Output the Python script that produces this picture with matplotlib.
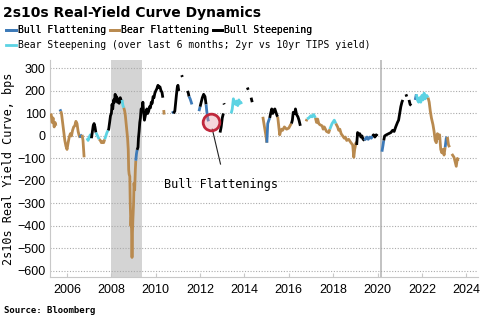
import numpy as np
import matplotlib
matplotlib.use("Agg")
import matplotlib.pyplot as plt
from matplotlib.lines import Line2D

# ---- data: (year, value bps, regime); "gap" breaks the line ----
years = [
    2005.28, 2005.33, 2005.37, 2005.42, 2005.46, 2005.50, 2005.52,
    2005.68, 2005.72,
    2005.75, 2005.80, 2005.85, 2005.90, 2005.95, 2006.00, 2006.05, 2006.10, 2006.15, 2006.20, 2006.25, 2006.30, 2006.35, 2006.40, 2006.45, 2006.50, 2006.55, 2006.59,
    2006.62, 2006.68,
    2006.72, 2006.77, 2006.79,
    2006.90, 2006.95, 2007.00, 2007.05, 2007.10,
    2007.13, 2007.18, 2007.22, 2007.26, 2007.30,
    2007.35, 2007.40, 2007.45,
    2007.50, 2007.55, 2007.60, 2007.65, 2007.70,
    2007.75, 2007.80, 2007.85,
    2007.88, 2007.92, 2007.96, 2008.00, 2008.03, 2008.06, 2008.10, 2008.14, 2008.17, 2008.20, 2008.23, 2008.27, 2008.30, 2008.35, 2008.40, 2008.45, 2008.48,
    2008.52, 2008.56,
    2008.60, 2008.63, 2008.66, 2008.70, 2008.73, 2008.76, 2008.78, 2008.80, 2008.83, 2008.85, 2008.88, 2008.90, 2008.93, 2008.95, 2008.97, 2009.00, 2009.02, 2009.05, 2009.08, 2009.10,
    2009.13, 2009.16,
    2009.20, 2009.22, 2009.25, 2009.28, 2009.31, 2009.34, 2009.38, 2009.42, 2009.45, 2009.49, 2009.53, 2009.56, 2009.60, 2009.64, 2009.68, 2009.72, 2009.76, 2009.80, 2009.84, 2009.88, 2009.92, 2009.96, 2010.00, 2010.05, 2010.10, 2010.15, 2010.19, 2010.24, 2010.28, 2010.32, 2010.33,
    2010.36, 2010.38, 2010.39,
    2010.75, 2010.80,
    2010.83, 2010.86, 2010.90, 2010.93, 2010.97, 2011.00, 2011.04, 2011.05,
    2011.17, 2011.20, 2011.21,
    2011.43, 2011.47, 2011.50,
    2011.55, 2011.60, 2011.63, 2011.64,
    2011.95, 2012.00,
    2012.05, 2012.10, 2012.16, 2012.22, 2012.27,
    2012.30, 2012.35, 2012.38, 2012.39,
    2012.90, 2012.95, 2013.00, 2013.05, 2013.06,
    2013.07, 2013.09, 2013.10,
    2013.40, 2013.45, 2013.50, 2013.55, 2013.60, 2013.65, 2013.70, 2013.75, 2013.80, 2013.90, 2013.91,
    2014.13, 2014.17, 2014.18,
    2014.30, 2014.35, 2014.36,
    2014.83, 2014.87, 2014.92, 2014.97, 2015.01,
    2015.05, 2015.10, 2015.14,
    2015.18, 2015.23, 2015.28, 2015.33, 2015.37, 2015.42, 2015.47, 2015.50,
    2015.55, 2015.59, 2015.63, 2015.68, 2015.72, 2015.80, 2015.90, 2016.00, 2016.08, 2016.12,
    2016.16, 2016.20, 2016.27, 2016.30, 2016.35, 2016.41, 2016.46, 2016.52, 2016.53,
    2016.78, 2016.82,
    2016.90, 2017.00, 2017.05, 2017.12, 2017.20,
    2017.25, 2017.30, 2017.35, 2017.40, 2017.50, 2017.55, 2017.60, 2017.70, 2017.80, 2017.85,
    2017.95, 2018.05, 2018.12,
    2018.20, 2018.25, 2018.30, 2018.36, 2018.43, 2018.50, 2018.55, 2018.61, 2018.70, 2018.80, 2018.88, 2018.93, 2018.97, 2019.03, 2019.06,
    2019.10, 2019.15, 2019.20, 2019.25, 2019.30, 2019.35, 2019.42,
    2019.47, 2019.52, 2019.58, 2019.65, 2019.72, 2019.78,
    2019.82, 2019.88, 2019.94, 2020.00, 2020.01,
    2020.20, 2020.25, 2020.28,
    2020.32, 2020.40, 2020.50, 2020.60, 2020.68, 2020.75, 2020.82, 2020.90, 2020.95, 2021.00, 2021.05, 2021.10, 2021.14, 2021.15,
    2021.28, 2021.32, 2021.33,
    2021.42, 2021.47, 2021.52, 2021.53,
    2021.70, 2021.75,
    2021.80, 2021.85, 2021.90, 2021.95, 2022.00, 2022.05, 2022.10, 2022.15, 2022.22, 2022.28,
    2022.33, 2022.38, 2022.43, 2022.50, 2022.55, 2022.60, 2022.65, 2022.70, 2022.75, 2022.80, 2022.85, 2022.90, 2022.95, 2023.00, 2023.05,
    2023.10, 2023.15,
    2023.20, 2023.25, 2023.26,
    2023.35, 2023.45, 2023.55, 2023.60, 2023.63,
]
values = [
    100, 60, 80, 40, 60, 45, None,
    118, 110,
    100, 60, 20, -20, -45, -60, -30, -5, 10, 0, 25, 40, 45, 65, 55, 20, 0, -8,
    0, 5,
    -20, -95, None,
    -10, -20, -5, 5, -10,
    10, 45, 55, 40, 15,
    5, -5, -15,
    -20, -30, -25, -30, -15,
    0, 15, 25,
    30, 60, 90, 100, 140, 120, 160, 150, 185, 160, 175, 150, 165, 145, 170, 155, 160,
    135, 125,
    110, 90, 60, 20, -10, -60, -150, -170, -180, -300, -400, -360, -540, -430, -370, -300, -210, -240, -150, -110,
    -80, -62,
    -50, -10, 20, 60, 80, 120, 115, 150, 110, 70, 90, 100, 120, 100, 110, 130, 125, 150, 145, 175, 170, 190, 200, 210, 225, 215, 218, 200, 195, 170, None,
    115, 95, None,
    110, 100,
    105, 110, 150, 180, 215, 225, 200, None,
    270, 262, None,
    200, 190, 175,
    165, 150, 140, None,
    110, 130,
    150, 170, 185, 175, 140,
    110, 75, 65, None,
    15, 40, 80, 100, None,
    145, 140, None,
    100, 120, 165, 150, 140, 155, 135, 160, 145, 150, None,
    215, 205, None,
    170, 150, None,
    85, 60, 30, 0, -30,
    55, 70, 80,
    100, 120, 100, 115, 120, 105, 90, 85,
    40, 5, 20, 30, 25, 40, 30, 35, 50, 55,
    70, 105, 100, 120, 95, 85, 70, 45, None,
    65, 75,
    80, 90, 85, 95, 80,
    60, 75, 55, 50, 45, 30, 40, 20, 15, 30,
    55, 70, 55,
    40, 25, 30, 10, 0, -10, -5, -20, -15, -30, -40, -95, -60, -30, -40,
    15, 5, 10, -5, 0, -15, -20,
    -10, -5, -15, -5, -10, 0,
    5, -5, 5, 0, None,
    -70, -40, -20,
    0, 5, 10, 15, 25, 20, 40, 60, 70, 100, 130, 150, 160, None,
    185, 175, None,
    160, 140, 135, None,
    160, 185,
    160, 150, 170, 150, 180, 160, 190, 165, 180, 170,
    150, 110, 80, 50, 20, -20, -30, 10, -10, 5, -60, -75, -60, -85, -50,
    -10, -5,
    -40, -50, None,
    -80, -95, -135, -100, -110,
]
regimes = (
    ["BrF"] * 6 + ["gap"] +
    ["BuF"] * 2 +
    ["BrF"] * 18 +
    ["BuF"] * 2 +
    ["BrF"] * 2 + ["gap"] +
    ["BrS"] * 5 +
    ["BuS"] * 5 +
    ["BrS"] * 3 +
    ["BrF"] * 5 +
    ["BrS"] * 3 +
    ["BuS"] * 17 +
    ["BrS"] * 2 +
    ["BrF"] * 20 +
    ["BuF"] * 2 +
    ["BuS"] * 30 + ["gap"] +
    ["BrF"] * 2 + ["gap"] +
    ["BuF"] * 2 +
    ["BuS"] * 7 + ["gap"] +
    ["BuS"] * 2 + ["gap"] +
    ["BuS"] * 3 +
    ["BuF"] * 3 + ["gap"] +
    ["BuF"] * 2 +
    ["BuS"] * 5 +
    ["BuF"] * 3 + ["gap"] +
    ["BuS"] * 4 + ["gap"] +
    ["BuS"] * 2 + ["gap"] +
    ["BrS"] * 10 + ["gap"] +
    ["BuS"] * 2 + ["gap"] +
    ["BuS"] * 2 + ["gap"] +
    ["BrF"] * 5 +
    ["BuF"] * 3 +
    ["BuS"] * 8 +
    ["BrF"] * 10 +
    ["BuS"] * 8 + ["gap"] +
    ["BrF"] * 2 +
    ["BrS"] * 5 +
    ["BrF"] * 10 +
    ["BrS"] * 3 +
    ["BrF"] * 15 +
    ["BuS"] * 7 +
    ["BuF"] * 6 +
    ["BuS"] * 4 + ["gap"] +
    ["BuF"] * 3 +
    ["BuS"] * 13 + ["gap"] +
    ["BuS"] * 2 + ["gap"] +
    ["BuS"] * 3 + ["gap"] +
    ["BuF"] * 2 +
    ["BrS"] * 10 +
    ["BrF"] * 15 +
    ["BuF"] * 2 +
    ["BrF"] * 2 + ["gap"] +
    ["BrF"] * 5
)

colors = {"BuF": "#3d7ab8", "BrF": "#b98a4f", "BuS": "#000000", "BrS": "#5cd3e3"}
labels = {"BuF": "Bull Flattening", "BrF": "Bear Flattening", "BuS": "Bull Steepening",
          "BrS": "Bear Steepening (over last 6 months; 2yr vs 10yr TIPS yield)"}

mono = "DejaVu Sans Mono"
fig = plt.figure(figsize=(4.85, 3.29), dpi=100)
ax = fig.add_axes([0.103, 0.158, 0.883, 0.66])

ax.axvspan(2008.0, 2009.4, color="#d4d4d4", zorder=0, lw=0)
ax.axvline(2020.15, color="#bdbdbd", lw=1.3, zorder=1)

# draw colored runs
n = len(years)
i = 0
while i < n:
    r = regimes[i]
    if r == "gap":
        i += 1
        continue
    j = i
    while j + 1 < n and regimes[j + 1] == r:
        j += 1
    start = i - 1 if i > 0 and regimes[i - 1] != "gap" else i
    xs = years[start:j + 1]
    ys = values[start:j + 1]
    ax.plot(xs, ys, color=colors[r], lw=2.0, solid_capstyle="butt", zorder=3)
    i = j + 1

ax.set_xlim(2005.23, 2024.54)
ax.set_ylim(-627, 338)
ax.set_yticks(np.arange(-600, 301, 100))
ax.set_xticks(np.arange(2006, 2025, 2))
ax.grid(axis="y", color="#aaaaaa", ls=(0, (1, 1.5)), lw=0.8)
for s in ["top", "right"]:
    ax.spines[s].set_visible(False)
for s in ["left", "bottom"]:
    ax.spines[s].set_color("#c8c8c8")
ax.tick_params(axis="x", direction="in", length=3, color="#c8c8c8", labelsize=9, pad=5)
ax.tick_params(axis="y", length=0, labelsize=9, pad=3)
for lab in ax.get_xticklabels() + ax.get_yticklabels():
    lab.set_fontfamily("Liberation Sans")
ax.set_ylabel("2s10s Real Yield Curve, bps", family=mono, fontsize=8.5, labelpad=2)

# annotation
ax.plot([2012.5], [60], marker="o", ms=12, mfc=(0.9, 0.6, 0.65, 0.4), mec="#c0283c", mew=2, zorder=5)
ax.plot([2012.55, 2012.92], [30, -125], color="#222222", lw=0.8, zorder=4)
ax.text(2010.35, -218, "Bull Flattenings", family=mono, fontsize=8.5, va="center", ha="left")

# title & legend
fig.text(0.006, 0.96, "2s10s Real-Yield Curve Dynamics", fontsize=10, fontweight="heavy",
         family="DejaVu Sans", va="center", ha="left")
h1 = [Line2D([], [], color=colors[k], lw=2) for k in ["BuF", "BrF", "BuS"]]
leg1 = fig.legend(h1, [labels[k] for k in ["BuF", "BrF", "BuS"]], loc="upper left",
                  bbox_to_anchor=(-0.005, 0.95), ncol=3, frameon=False, handlelength=1.0,
                  handletextpad=0.15, columnspacing=0.4, prop={"family": mono, "size": 7})
fig.add_artist(leg1)
h2 = [Line2D([], [], color=colors["BrS"], lw=2)]
fig.legend(h2, [labels["BrS"]], loc="upper left", bbox_to_anchor=(-0.005, 0.905), ncol=1,
           frameon=False, handlelength=1.0, handletextpad=0.15, prop={"family": mono, "size": 7})

fig.text(0.008, 0.055, "Source: Bloomberg", family=mono, fontsize=6.5, fontweight="bold",
         va="center", ha="left")

fig.savefig("out.png", dpi=100)
